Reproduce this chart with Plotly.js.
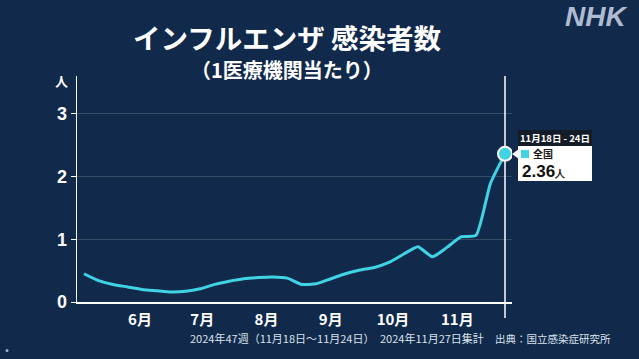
<!DOCTYPE html>
<html>
<head>
<meta charset="utf-8">
<script src="https://cdn.plot.ly/plotly-3.0.1.min.js"></script>
<style>
html,body{margin:0;padding:0;background:#11294b;}
#chart{width:639px;height:359px;}
</style>
</head>
<body>
<div id="chart"></div>
<script>
// Week-ending dates (2024 weeks 18-47)
const weekEnds = ['2024-05-05','2024-05-12','2024-05-19','2024-05-26','2024-06-02','2024-06-09','2024-06-16','2024-06-23','2024-06-30','2024-07-07','2024-07-14','2024-07-21','2024-07-28','2024-08-04','2024-08-11','2024-08-18','2024-08-25','2024-09-01','2024-09-08','2024-09-15','2024-09-22','2024-09-29','2024-10-06','2024-10-13','2024-10-20','2024-10-27','2024-11-03','2024-11-10','2024-11-17','2024-11-24'];
// Patients per medical institution
const perClinic = [0.45,0.34,0.28,0.24,0.20,0.18,0.16,0.17,0.21,0.28,0.33,0.37,0.39,0.40,0.38,0.28,0.29,0.37,0.45,0.51,0.55,0.63,0.76,0.88,0.72,0.87,1.04,1.06,1.89,2.36];
const monthTicks = ['2024-06-01','2024-07-01','2024-08-01','2024-09-01','2024-10-01','2024-11-01'];
const monthLabels = ['6月','7月','8月','9月','10月','11月'];
const yTicks = [0,1,2,3];
const periodLabel = '11月18日 - 24日';
const regionLabel = '全国';
const footNotes = ['2024年47週（11月18日～11月24日）','2024年11月27日集計','出典：国立感染症研究所'];

const JP = '"Noto Sans CJK JP", "Noto Sans", sans-serif';
const cyan = '#3fd3e4';
const bg = '#11294b';
const lastX = weekEnds[weekEnds.length-1];
const lastY = perClinic[perClinic.length-1];

// pixel -> paper helpers (plot area 77..512 x, 76..302 y)
const L=77,R=512,T=76,B=302;
const px = x => (x-L)/(R-L);
const py = y => (B-y)/(B-T);

const traces = [
  {x: weekEnds, y: perClinic, type:'scatter', mode:'lines',
   line:{color:cyan, width:3, shape:'spline', smoothing:0.5}, hoverinfo:'skip'},
  {x:[lastX], y:[lastY], type:'scatter', mode:'markers',
   marker:{size:14, color:cyan, line:{color:'#ffffff', width:2}}, hoverinfo:'skip'}
];

const footX = [188, 378, 493];
const footSize = [11, 11, 10.5];
const footAnn = footNotes.map((t,i)=>({text:t, xref:'paper', yref:'paper', x:px(footX[i]), y:py(338),
  xanchor:'left', yanchor:'middle', showarrow:false, font:{family:JP, size:footSize[i], color:'#dbe2ec'}}));

const layout = {
  width:639, height:359,
  paper_bgcolor:bg, plot_bgcolor:bg,
  showlegend:false,
  margin:{l:L, r:639-R, t:T, b:359-B, pad:0},
  font:{family:JP, color:'#ffffff'},
  xaxis:{
    type:'date',
    range:['2024-05-01 15:00','2024-11-27 09:00'],
    tickvals:monthTicks, ticktext:monthLabels,
    ticks:'', showgrid:false, zeroline:false,
    showline:true, linecolor:'#ffffff', linewidth:2,
    tickfont:{family:JP, size:15, color:'#ffffff', weight:'bold'},
    ticklabelstandoff:3
  },
  yaxis:{
    range:[0,3.6],
    tickvals:yTicks,
    ticks:'outside', ticklen:5, tickcolor:'#ffffff', tickwidth:1,
    showline:true, linecolor:'#ffffff', linewidth:1.5,
    showgrid:true, gridcolor:'rgba(255,255,255,0.16)', gridwidth:1,
    zeroline:false,
    tickfont:{family:'"Liberation Sans", Arial, sans-serif', size:18, color:'#ffffff', weight:'bold'}
  },
  shapes:[
    {type:'line', xref:'x', yref:'paper', x0:lastX, x1:lastX, y0:py(318), y1:py(76),
     line:{color:'#ffffff', width:1.5}, layer:'below'},
    {type:'rect', xref:'paper', yref:'paper', x0:px(518), x1:px(592), y0:py(146), y1:py(130),
     fillcolor:'#141c28', line:{width:0}},
    {type:'rect', xref:'paper', yref:'paper', x0:px(518), x1:px(592), y0:py(181), y1:py(146),
     fillcolor:'#ffffff', line:{width:0}},
    {type:'path', xref:'paper', yref:'paper',
     path:`M ${px(512)},${py(154)} L ${px(519)},${py(149)} L ${px(519)},${py(159)} Z`,
     fillcolor:'#ffffff', line:{width:0}},
    {type:'rect', xref:'paper', yref:'paper', x0:px(521), x1:px(529), y0:py(158), y1:py(150),
     fillcolor:cyan, line:{width:0}},
    {type:'circle', xref:'paper', yref:'paper', x0:px(5.5), x1:px(8.5), y0:py(352), y1:py(349),
     fillcolor:'#9fb0c8', line:{width:0}}
  ],
  annotations:[
    {text:'インフルエンザ 感染者数', xref:'paper', yref:'paper', x:px(287), y:py(37),
     xanchor:'center', yanchor:'middle', showarrow:false,
     font:{family:JP, size:27.5, color:'#ffffff', weight:'bold'}},
    {text:'（1医療機関当たり）', xref:'paper', yref:'paper', x:px(287), y:py(69),
     xanchor:'center', yanchor:'middle', showarrow:false,
     font:{family:JP, size:20, color:'#ffffff', weight:'bold'}},
    {text:'人', xref:'paper', yref:'paper', x:px(61), y:py(80),
     xanchor:'center', yanchor:'middle', showarrow:false,
     font:{family:JP, size:13, color:'#ffffff', weight:'bold'}},
    {text:'NHK', xref:'paper', yref:'paper', x:px(596), y:py(16),
     xanchor:'center', yanchor:'middle', showarrow:false,
     font:{family:'"Liberation Sans", Arial, sans-serif', size:28, color:'#aebbd0', weight:'bold', style:'italic'}},
    ...footAnn,
    {text:periodLabel, xref:'paper', yref:'paper', x:px(555), y:py(138),
     xanchor:'center', yanchor:'middle', showarrow:false,
     font:{family:JP, size:9.5, color:'#ffffff', weight:'bold'}},
    {text:regionLabel, xref:'paper', yref:'paper', x:px(531), y:py(153),
     xanchor:'left', yanchor:'middle', showarrow:false,
     font:{family:JP, size:10, color:'#1a1a1a', weight:'bold'}},
    {text:'<b>'+lastY.toFixed(2)+'</b><span style="font-size:10px"><b>人</b></span>', xref:'paper', yref:'paper', x:px(520), y:py(171),
     xanchor:'left', yanchor:'middle', showarrow:false,
     font:{family:'"Liberation Sans", Arial, sans-serif', size:17, color:'#111111'}}
  ]
};

Plotly.newPlot('chart', traces, layout, {staticPlot:true, displayModeBar:false});
</script>
</body>
</html>
